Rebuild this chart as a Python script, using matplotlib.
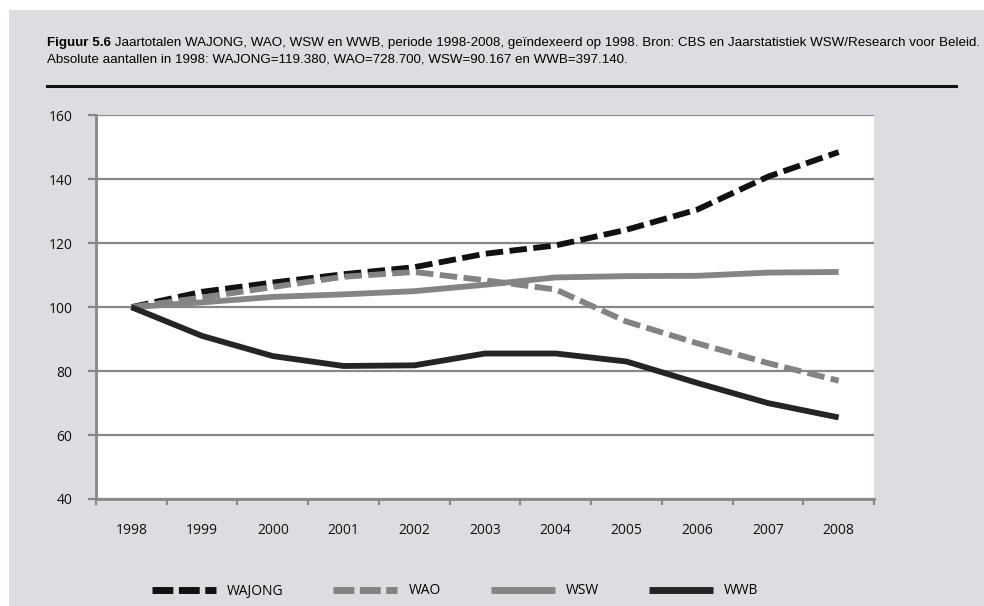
import matplotlib.pyplot as plt
from matplotlib.patches import Rectangle
from matplotlib.lines import Line2D

# Jaartotalen, geindexeerd op 1998 = 100
jaren = ["1998", "1999", "2000", "2001", "2002", "2003", "2004", "2005", "2006", "2007", "2008"]
wajong = [100, 104.8, 107.7, 110.3, 112.5, 116.7, 119.3, 124.2, 130.5, 140.8, 148.5]
wao = [100, 103.0, 106.3, 109.5, 111.0, 108.4, 105.5, 95.5, 88.7, 82.5, 77.0]
wsw = [100, 101.5, 103.2, 104.0, 105.0, 107.0, 109.3, 109.7, 109.8, 110.8, 111.0]
wwb = [100, 91.0, 84.7, 81.6, 81.8, 85.5, 85.5, 83.0, 76.3, 70.0, 65.5]
namen = ["WAJONG", "WAO", "WSW", "WWB"]
yticks = [40, 60, 80, 100, 120, 140, 160]

titel_vet = "Figuur 5.6"
titel_1 = (" Jaartotalen WAJONG, WAO, WSW en WWB, periode 1998-2008, geïndexeerd op 1998. "
           "Bron: CBS en Jaarstatistiek WSW/Research voor Beleid.")
titel_2 = "Absolute aantallen in 1998: WAJONG=119.380, WAO=728.700, WSW=90.167 en WWB=397.140."

W, H = 984, 606
fig = plt.figure(figsize=(W / 100, H / 100), dpi=100)
fig.patch.set_facecolor("white")

# grijze achtergrond
fig.patches.append(Rectangle((9 / W, 0), 1, 1 - 10 / H, transform=fig.transFigure,
                             facecolor="#dcdde0", edgecolor="none", zorder=-10))

# titel: lettergrootte zo kiezen dat de eerste regel tot x=971 loopt
titel_font = "Liberation Sans"
x0, x_eind = 47, 971
fs = 9.5
for _ in range(3):
    t1 = fig.text(x0 / W, 1 - 43 / H, titel_vet, fontsize=fs, fontweight="bold",
                  family=titel_font, va="center", ha="left")
    fig.canvas.draw()
    bb = t1.get_window_extent()
    t2 = fig.text(bb.x1 / W, 1 - 43 / H, titel_1, fontsize=fs, family=titel_font, va="center", ha="left")
    fig.canvas.draw()
    breedte = t2.get_window_extent().x1 - x0
    t1.remove()
    t2.remove()
    fs = fs * (x_eind - x0) / breedte

t1 = fig.text(x0 / W, 1 - 43 / H, titel_vet, fontsize=fs, fontweight="bold",
              family=titel_font, va="center", ha="left")
fig.canvas.draw()
bb = t1.get_window_extent()
fig.text(bb.x1 / W, 1 - 43 / H, titel_1, fontsize=fs, family=titel_font, va="center", ha="left")
fig.text(x0 / W, 1 - 60 / H, titel_2, fontsize=fs, family=titel_font, va="center", ha="left")
fig.add_artist(Line2D([47 / W, 956 / W], [1 - 86 / H, 1 - 86 / H], transform=fig.transFigure,
                      color="#111111", linewidth=2.2))

ax = fig.add_axes([96 / W, 1 - 499 / H, (874 - 96) / W, (499 - 115.3) / H])
ax.set_facecolor("white")

x = list(range(len(jaren)))
ax.plot(x, wajong, color="#111111", linewidth=4.2, dashes=(3, 1.1), label=namen[0], zorder=3)
ax.plot(x, wao, color="#838383", linewidth=4.2, dashes=(3, 1.1), label=namen[1], zorder=3)
ax.plot(x, wsw, color="#858585", linewidth=4.2, solid_capstyle="butt", label=namen[2], zorder=2)
ax.plot(x, wwb, color="#252525", linewidth=4.2, solid_capstyle="butt", label=namen[3], zorder=4)

ax.set_xlim(-0.5, len(jaren) - 0.5)
ax.set_ylim(40, 160)
ax.set_yticks(yticks)
ax.set_xticks(x)
ax.set_xticklabels(jaren)
ax.set_xticks([i - 0.5 for i in range(len(jaren) + 1)], minor=True)

ax.grid(axis="y", color="#888888", linewidth=1.6, zorder=1)
ax.set_axisbelow(True)
for s in ["top", "right"]:
    ax.spines[s].set_visible(False)
for s in ["left", "bottom"]:
    ax.spines[s].set_color("#888888")
    ax.spines[s].set_linewidth(2)

ax.tick_params(axis="y", length=6, width=1.6, color="#888888", pad=11, labelsize=10)
ax.tick_params(axis="x", which="major", length=0, pad=17, labelsize=10)
ax.tick_params(axis="x", which="minor", length=4, width=1.6, color="#888888")
for lab in ax.get_xticklabels() + ax.get_yticklabels():
    lab.set_family("Open Sans")
    lab.set_color("#111111")

leg = ax.legend(loc="center", bbox_to_anchor=(455 / W, 1 - 591 / H), bbox_transform=fig.transFigure,
                ncol=4, frameon=False, handlelength=4.6, handletextpad=0.8, columnspacing=3.6,
                prop={"family": "Open Sans", "size": 10})
for lh in leg.get_lines():
    lh.set_linewidth(5)
    if lh.get_linestyle() != "-":
        lh.set_dashes((3, 0.8))

fig.savefig("out.png", dpi=100, facecolor=fig.get_facecolor())
